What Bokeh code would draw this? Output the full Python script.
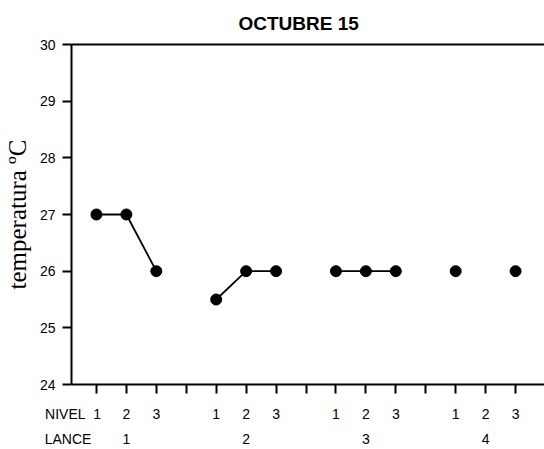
from bokeh.plotting import figure
from bokeh.models import (Range1d, LinearAxis, FixedTicker, ColumnDataSource)
from bokeh.embed import file_html
from bokeh.resources import INLINE
import math

# ---- data ----
lances = [1, 2, 3, 4]
niveles = [1, 2, 3]
temp_lance1 = [27.0, 27.0, 26.0]
temp_lance2 = [25.5, 26.0, 26.0]
temp_lance3 = [26.0, 26.0, 26.0]
temp_lance4 = [26.0, float("nan"), 26.0]
y_ticks = [24, 25, 26, 27, 28, 29, 30]
title_text = "OCTUBRE 15"
y_label = "temperatura ºC"
row_labels = ["NIVEL", "LANCE"]

temps = [temp_lance1, temp_lance2, temp_lance3, temp_lance4]
slots_per_lance = len(niveles) + 1

FONT = "Liberation Sans"
FS = "14px"
NB = "\u00a0"

p = figure(width=544, height=449, output_backend="svg", toolbar_location=None,
           x_range=Range1d(1 - 25/30, 15 + 29/30), y_range=Range1d(24, 30),
           min_border_left=70, min_border_right=0, min_border_top=43,
           min_border_bottom=65)
p.outline_line_color = None
p.grid.visible = False
p.background_fill_color = "white"
p.border_fill_color = "white"

p.title.text = title_text
p.title.text_font = FONT
p.title.text_font_size = "19px"
p.title.text_font_style = "bold"
p.title.align = "left"
p.title.offset = 167
p.title.standoff = 21
p.title.text_color = "black"

# data marks
for li, lance in enumerate(lances):
    xs = [(lance - 1) * slots_per_lance + n for n in niveles]
    ys = temps[li]
    src = ColumnDataSource(dict(x=xs, y=ys))
    p.line("x", "y", source=src, line_color="black", line_width=1.8)
    pts = ColumnDataSource(dict(x=[x for x, y in zip(xs, ys) if not math.isnan(y)],
                                y=[y for y in ys if not math.isnan(y)]))
    p.scatter("x", "y", source=pts, size=11, fill_color="black", line_color="black")

# y axis
ya = p.yaxis[0]
ya.ticker = FixedTicker(ticks=y_ticks)
ya.minor_tick_line_color = None
ya.major_tick_in = 0
ya.major_tick_out = 9
ya.major_tick_line_width = 2
ya.axis_line_width = 2
ya.major_label_text_font = FONT
ya.major_label_text_font_size = FS
ya.major_label_text_color = "black"
ya.major_label_standoff = 7
ya.axis_label = y_label
ya.axis_label_text_font = "Liberation Serif"
ya.axis_label_text_font_style = "normal"
ya.axis_label_text_font_size = "25px"
ya.axis_label_text_color = "black"
ya.axis_label_standoff = 6

# x axis: NIVEL row (centered labels; row name padded so the digit stays centered)
n_slots = len(lances) * slots_per_lance - 1
xa = p.xaxis[0]
all_ticks = list(range(1, n_slots + 1))
xa.ticker = FixedTicker(ticks=all_ticks)
nivel_txt = {}
for t in all_ticks:
    r = (t - 1) % slots_per_lance
    txt = str(niveles[r]) if r < len(niveles) else ""
    if t == 1:
        txt = row_labels[0] + NB * 2 + txt + NB * 12
    nivel_txt[t] = txt
xa.major_label_overrides = nivel_txt
xa.minor_tick_line_color = None
xa.major_tick_in = 0
xa.major_tick_out = 9
xa.major_tick_line_width = 2
xa.axis_line_width = 2
xa.major_label_text_font = FONT
xa.major_label_text_font_size = FS
xa.major_label_text_color = "black"
xa.major_label_standoff = 12

# LANCE row
centers = [(l - 1) * slots_per_lance + niveles[len(niveles)//2] for l in lances]
lance_txt = {}
for i, (c, l) in enumerate(zip(centers, lances)):
    lance_txt[c] = (row_labels[1] + NB * 8 + str(l) + NB * 20) if i == 0 else str(l)
xl = LinearAxis(ticker=FixedTicker(ticks=centers), major_label_overrides=lance_txt)
xl.axis_line_color = None
xl.major_tick_line_color = None
xl.minor_tick_line_color = None
xl.major_label_text_font = FONT
xl.major_label_text_font_size = FS
xl.major_label_text_color = "black"
xl.major_label_standoff = 0
p.add_layout(xl, "below")

# top frame line
top = LinearAxis(ticker=FixedTicker(ticks=[]))
top.axis_line_width = 2
top.major_tick_line_color = None
top.minor_tick_line_color = None
top.major_label_text_font_size = "0px"
p.add_layout(top, "above")

open("out.html", "w").write(file_html(p, INLINE))
